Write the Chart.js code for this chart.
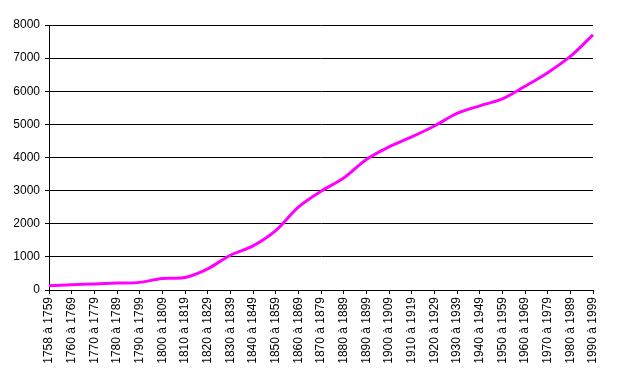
<!DOCTYPE html>
<html>
<head>
<meta charset="utf-8">
<script src="https://cdn.jsdelivr.net/npm/chart.js@4/dist/chart.umd.min.js"></script>
<style>
  html, body { margin: 0; padding: 0; background: #fff; }
  #wrap { width: 617px; height: 375px; }
</style>
</head>
<body>
<div id="wrap"><canvas id="chart"></canvas></div>
<script>
// periods on the x axis
const periods = [
  '1758 à 1759', '1760 à 1769', '1770 à 1779', '1780 à 1789', '1790 à 1799',
  '1800 à 1809', '1810 à 1819', '1820 à 1829', '1830 à 1839', '1840 à 1849',
  '1850 à 1859', '1860 à 1869', '1870 à 1879', '1880 à 1889', '1890 à 1899',
  '1900 à 1909', '1910 à 1919', '1920 à 1929', '1930 à 1939', '1940 à 1949',
  '1950 à 1959', '1960 à 1969', '1970 à 1979', '1980 à 1989', '1990 à 1999'
];

// cumulated values
const totals = [
  130, 160, 180, 210, 230,
  350, 380, 640, 1050, 1330,
  1790, 2500, 2980, 3380, 3940,
  4320, 4620, 4950, 5330, 5560,
  5770, 6150, 6560, 7050, 7700
];

const yMin = 0;
const yMax = 8000;
const yStep = 1000;

Chart.defaults.font.family = '"Liberation Sans", Arial, sans-serif';
Chart.defaults.font.size = 12;
Chart.defaults.color = '#000';

new Chart(document.getElementById('chart'), {
  type: 'line',
  data: {
    labels: periods,
    datasets: [{
      data: totals,
      borderColor: '#ff00ff',
      borderWidth: 3,
      pointRadius: 0,
      tension: 0.35,
      fill: false
    }]
  },
  options: {
    responsive: true,
    maintainAspectRatio: false,
    animation: false,
    layout: { padding: { left: 0, right: 24, top: 25, bottom: 0 } },
    plugins: { legend: { display: false }, tooltip: { enabled: false } },
    scales: {
      x: {
        offset: false,
        grid: { display: true, drawOnChartArea: false, drawTicks: true, tickLength: 4, color: '#000', lineWidth: 1 },
        border: { color: '#000', width: 1 },
        ticks: { autoSkip: false, minRotation: 90, maxRotation: 90, padding: 3 },
        afterFit: (scale) => { scale.height = 85; }
      },
      y: {
        min: yMin,
        max: yMax,
        grid: { color: '#000', lineWidth: 1, tickLength: 4 },
        border: { color: '#000', width: 1 },
        ticks: { stepSize: yStep, padding: 5, callback: (v) => String(v) },
        afterFit: (scale) => { scale.width = 49; }
      }
    }
  }
});
</script>
</body>
</html>
